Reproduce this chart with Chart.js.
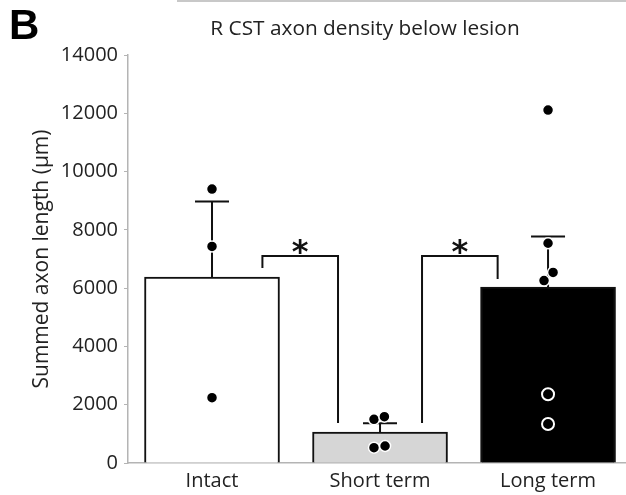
<!DOCTYPE html>
<html>
<head>
<meta charset="utf-8">
<script src="https://cdn.jsdelivr.net/npm/chart.js@4"></script>
<style>
  html, body { margin: 0; padding: 0; background: #fff; overflow: hidden; }
  #wrap { position: relative; width: 626px; height: 495px; }
  #panel { position: absolute; left: 9px; top: 4px; font: bold 42px/42px "Liberation Sans", Arial, sans-serif; color: #000; }
  #title { position: absolute; left: 165px; width: 400px; top: 17px; text-align: center; font: 20.8px/20px "Open Sans", sans-serif; color: #222; }
  #topline { position: absolute; left: 177px; right: 0; top: 0; height: 2px; background: #c8c8c8; }
</style>
</head>
<body>
<div id="wrap">
  <div id="topline"></div>
  <canvas id="c" width="626" height="495"></canvas>
  <div id="panel">B</div>
  <div id="title">R CST axon density below lesion</div>
</div>
<script>
// groups and bar values (µm)
var categories = ["Intact", "Short term", "Long term"];
var means = [6380, 1060, 6040];
var sdUp = [2590, 300, 1730];
var barColors = ["#ffffff", "#d6d6d6", "#000000"];

// individual animals
var intactPts = [9400, 7430, 2240];
var intactJit = [0, 0, 0];
var shortPts = [1500, 1590, 525, 583];
var shortJit = [-0.036, 0.026, -0.036, 0.03];
var longPts = [12110, 7540, 6540, 6260];
var longJit = [0, 0, 0.03, -0.024];
var longOpenPts = [2360, 1340];
var longOpenJit = [0, 0];

// significance brackets
var sigX = [[0.3, 0.75], [1.25, 1.7]];
var sigTop = [7100, 7100];
var sigLegs = [[6690, 1370], [1370, 6310]];
var sigLabel = ["*", "*"];

var yTicks = [0, 2000, 4000, 6000, 8000, 10000, 12000, 14000];

function pts(group, vals, jit) {
    return vals.map(function (v, i) { return {x: group + jit[i], y: v}; });
}

var dotAll = pts(0, intactPts, intactJit)
    .concat(pts(1, shortPts, shortJit))
    .concat(pts(2, longPts, longJit));

var errorBars = {
    id: "errorBars",
    afterDatasetDraw: function (chart, args) {
        if (args.index !== 0) return;
        var ctx = chart.ctx, x = chart.scales.x, y = chart.scales.y;
        ctx.save();
        ctx.strokeStyle = "#111";
        ctx.lineWidth = 2;
        for (var i = 0; i < means.length; i++) {
            var px = x.getPixelForValue(i);
            var y0 = y.getPixelForValue(means[i]);
            var y1 = y.getPixelForValue(means[i] + sdUp[i]);
            ctx.beginPath();
            ctx.moveTo(px, y0);
            ctx.lineTo(px, y1);
            ctx.moveTo(px - 17, y1);
            ctx.lineTo(px + 17, y1);
            ctx.stroke();
        }
        ctx.restore();
    }
};

var brackets = {
    id: "brackets",
    afterDatasetsDraw: function (chart) {
        var ctx = chart.ctx, x = chart.scales.x, y = chart.scales.y;
        ctx.save();
        ctx.strokeStyle = "#111";
        ctx.lineWidth = 2;
        ctx.fillStyle = "#111";
        ctx.font = "bold 32px 'DejaVu Sans'";
        ctx.textAlign = "center";
        ctx.textBaseline = "alphabetic";
        for (var i = 0; i < sigX.length; i++) {
            var xa = x.getPixelForValue(sigX[i][0]);
            var xb = x.getPixelForValue(sigX[i][1]);
            var yt = y.getPixelForValue(sigTop[i]);
            ctx.beginPath();
            ctx.moveTo(xa, y.getPixelForValue(sigLegs[i][0]));
            ctx.lineTo(xa, yt);
            ctx.lineTo(xb, yt);
            ctx.lineTo(xb, y.getPixelForValue(sigLegs[i][1]));
            ctx.stroke();
            var m = ctx.measureText(sigLabel[i]);
            var cy = yt - 9.5;
            var by = cy + (m.actualBoundingBoxAscent - m.actualBoundingBoxDescent) / 2;
            ctx.fillText(sigLabel[i], (xa + xb) / 2, by);
        }
        ctx.restore();
    }
};

new Chart(document.getElementById("c"), {
    type: "bar",
    data: {
        datasets: [{
            type: "bar",
            data: means.map(function (v, i) { return {x: i, y: v}; }),
            backgroundColor: barColors,
            borderColor: "#111",
            borderWidth: 2,
            borderSkipped: "bottom",
            barThickness: 135,
            order: 3
        }, {
            type: "scatter",
            data: dotAll,
            pointRadius: 5.5,
            pointBackgroundColor: "#000",
            pointBorderColor: "#fff",
            pointBorderWidth: 1.5,
            order: 1
        }, {
            type: "scatter",
            data: pts(2, longOpenPts, longOpenJit),
            pointRadius: 6,
            pointBackgroundColor: "#000",
            pointBorderColor: "#fff",
            pointBorderWidth: 2,
            order: 0
        }]
    },
    options: {
        responsive: false,
        animation: false,
        layout: {autoPadding: false, padding: {top: 55, left: 0, right: 0, bottom: 0}},
        plugins: {legend: {display: false}, tooltip: {enabled: false}},
        scales: {
            x: {
                type: "linear",
                min: -0.5,
                max: 2.464,
                offset: false,
                grace: 0,
                afterFit: function (s) {
                    s.height = 32;
                    s.paddingLeft = 0;
                    s.paddingRight = 0;
                },
                afterBuildTicks: function (s) {
                    s.ticks = categories.map(function (c, i) { return {value: i}; });
                },
                ticks: {
                    callback: function (v) { return categories[v]; },
                    font: {family: "'Open Sans'", size: 20},
                    color: "#222",
                    padding: 6,
                    maxRotation: 0,
                    autoSkip: false
                },
                grid: {display: false, drawTicks: false, offset: false},
                border: {color: "#b4b4b4", width: 1.5}
            },
            y: {
                min: 0,
                max: 14000,
                afterFit: function (s) { s.width = 128; },
                afterBuildTicks: function (s) {
                    s.ticks = yTicks.map(function (v) { return {value: v}; });
                },
                ticks: {
                    callback: function (v) { return String(v); },
                    font: {family: "'Open Sans'", size: 20},
                    color: "#222",
                    padding: 6
                },
                grid: {drawOnChartArea: false, color: "#b4b4b4", tickLength: 4},
                border: {color: "#b4b4b4", width: 1.5},
                title: {
                    display: true,
                    text: "Summed axon length (\u03bcm)",
                    font: {family: "'Open Sans'", size: 21},
                    color: "#222",
                    padding: {top: 29, bottom: 0}
                }
            }
        }
    },
    plugins: [errorBars, brackets]
});
</script>
</body>
</html>
